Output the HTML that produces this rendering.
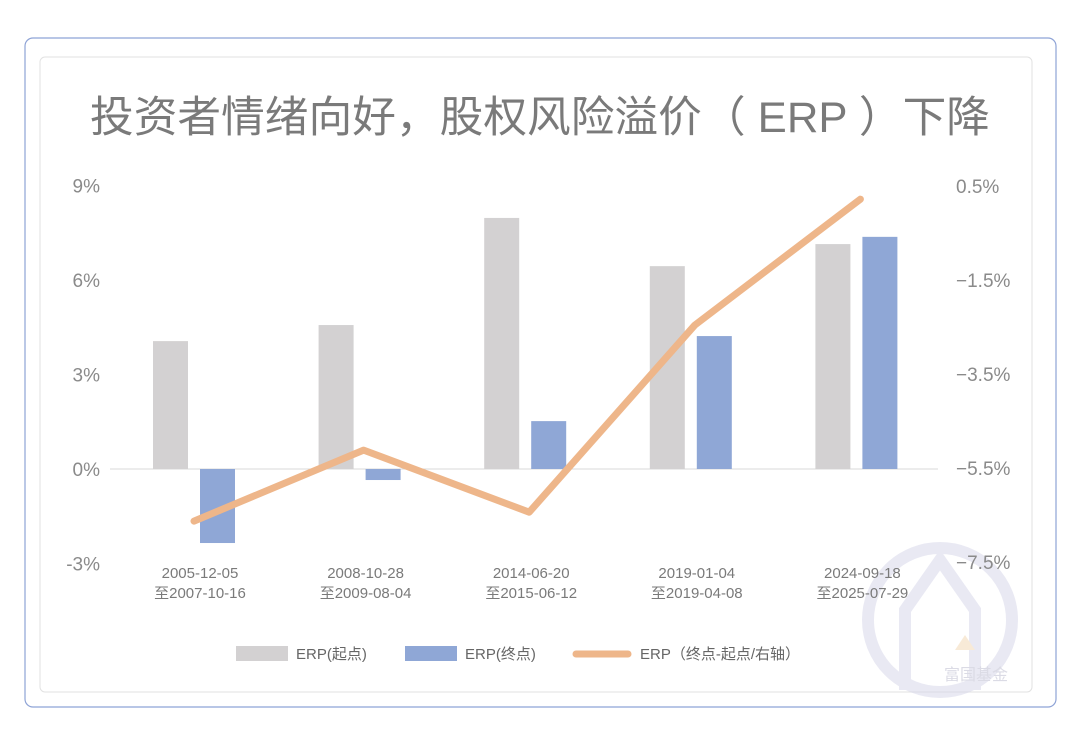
<!DOCTYPE html>
<html><head><meta charset="utf-8"><style>
body{margin:0;background:#fff;width:1080px;height:737px;overflow:hidden;font-family:"Liberation Sans","Noto Sans CJK SC",sans-serif}
</style></head><body>
<svg width="1080" height="737" font-family="Liberation Sans, Noto Sans CJK SC, sans-serif">
<rect x="25" y="38" width="1031" height="669" rx="8" fill="#fff" stroke="#8ea3d6" stroke-width="1.2"/>
<rect x="40" y="57" width="992" height="635" rx="5" fill="#fff" stroke="#e2e2e2" stroke-width="1"/>
<g opacity="0.5">
<circle cx="940" cy="620" r="72" fill="none" stroke="#d4d4e8" stroke-width="12"/>
<path d="M905 690 L905 610 L940 560 L975 610 L975 690" fill="none" stroke="#d4d4e8" stroke-width="12"/>
<path d="M955 650 L965 635 L975 650 Z" fill="#f3d7b0"/>
<text x="976" y="680" font-size="16" fill="#b8b8cc" text-anchor="middle">富国基金</text>
</g>
<text x="90" y="132" font-size="43" fill="#7a7a7a" textLength="900" lengthAdjust="spacingAndGlyphs">投资者情绪向好，股权风险溢价（ ERP ）下降</text>
<g id="axes"></g><g id="bars"></g><g id="line"></g>
<g font-size="15" fill="#666">
<rect x="236" y="646" width="52" height="15" fill="#d3d1d2"/>
<text x="296" y="659">ERP(起点)</text>
<rect x="405" y="646" width="52" height="15" fill="#8fa7d6"/>
<text x="465" y="659">ERP(终点)</text>
<line x1="576" y1="654" x2="628" y2="654" stroke="#eeb68a" stroke-width="7" stroke-linecap="round"/>
<text x="640" y="659">ERP（终点-起点/右轴）</text>
</g>
</svg>
<script>
const categories=[["2005-12-05","至2007-10-16"],["2008-10-28","至2009-08-04"],["2014-06-20","至2015-06-12"],["2019-01-04","至2019-04-08"],["2024-09-18","至2025-07-29"]];
const startValues=[4.06,4.57,7.97,6.44,7.14];
const endValues=[-2.35,-0.35,1.52,4.22,7.37];
const diffValues=[-6.63,-5.12,-6.44,-2.46,0.22];
const leftTicks=[9,6,3,0,-3];
const rightTicks=[0.5,-1.5,-3.5,-5.5,-7.5];
const NS="http://www.w3.org/2000/svg";
const yL=v=>469-v*31.5;
const yR=v=>468-(v+5.5)*47;
const cx=i=>194+i*165.6;
function mk(t,a,p){const e=document.createElementNS(NS,t);for(const k in a)e.setAttribute(k,a[k]);p.appendChild(e);return e;}
const ax=document.getElementById('axes');
leftTicks.forEach(v=>{const t=mk('text',{x:100,y:yL(v)+7,'text-anchor':'end','font-size':19,fill:'#8a8a8a'},ax);t.textContent=v+'%';

});
rightTicks.forEach(v=>{const t=mk('text',{x:956,y:yR(v)+7,'font-size':19,fill:'#8a8a8a'},ax);t.textContent=(v<0?'−'+(-v):v)+'%';

});
const base=mk('line',{x1:110,x2:938,y1:yL(0),y2:yL(0),stroke:'#d9d9d9','stroke-width':1},ax);


categories.forEach((c,i)=>{c.forEach((s,j)=>{const t=mk('text',{x:cx(i)+6,y:578+j*20,'text-anchor':'middle','font-size':15,fill:'#7a7a7a'},ax);t.textContent=s;

});});
const bg=document.getElementById('bars');
function bar(v,x,col,name){const y0=yL(0),y1=yL(v);const r=mk('rect',{x:x,y:Math.min(y0,y1),width:35,height:Math.abs(y1-y0),fill:col},bg);

}
startValues.forEach((v,i)=>bar(v,cx(i)-41,'#d3d1d2','bar-start-'+i));
endValues.forEach((v,i)=>bar(v,cx(i)+6,'#8fa7d6','bar-end-'+i));
const pts=diffValues.map((v,i)=>cx(i)+(i==0?0:4)+','+yR(v)).join(' ');
const pl=mk('polyline',{points:pts,fill:'none',stroke:'#eeb68a','stroke-width':7,'stroke-linecap':'round','stroke-linejoin':'round'},document.getElementById('line'));


</script>
</body></html>
